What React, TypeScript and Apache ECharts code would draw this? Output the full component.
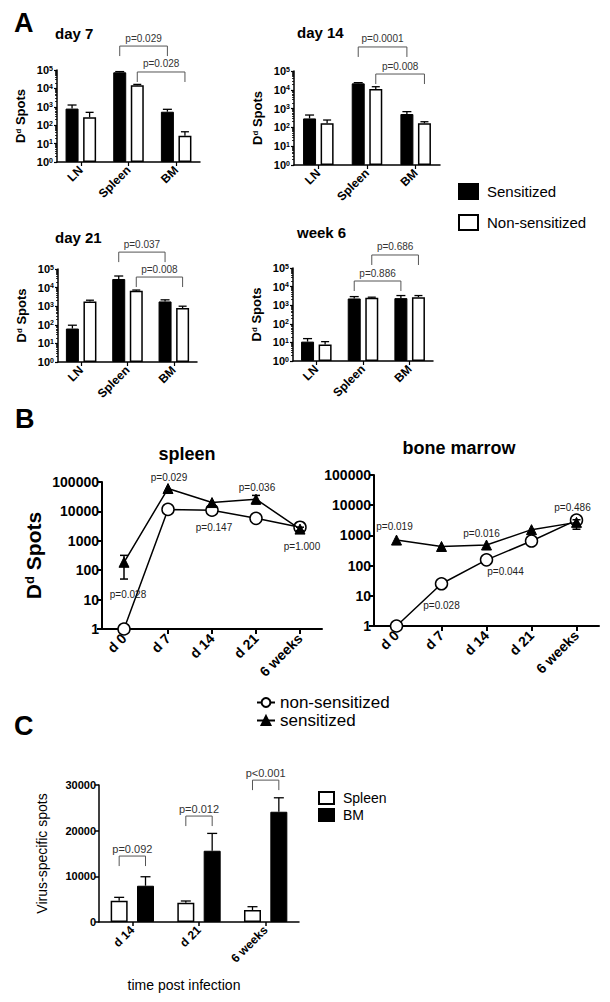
import React, { useEffect, useRef } from "react";
import * as echarts from "echarts";

const FONT = "'Liberation Sans', Arial, Helvetica, sans-serif";

// ---------------- Panel A data ----------------
const tissues = ["LN", "Spleen", "BM"];
const panelATitles = ["day 7", "day 14", "day 21", "week 6"];
const day7Sensitized = [800, 75000, 540];
const day7SensitizedErr = [1250, 82000, 730];
const day7NonSensitized = [270, 15000, 27];
const day7NonSensitizedErr = [500, 16500, 44];
const day14Sensitized = [300, 22000, 515];
const day14SensitizedErr = [455, 24000, 690];
const day14NonSensitized = [165, 11000, 165];
const day14NonSensitizedErr = [247, 14600, 200];
const day21Sensitized = [63, 29000, 1800];
const day21SensitizedErr = [95, 42000, 2200];
const day21NonSensitized = [1800, 6800, 790];
const day21NonSensitizedErr = [2100, 7400, 1000];
const week6Sensitized = [11, 2300, 2400];
const week6SensitizedErr = [16, 2900, 3300];
const week6NonSensitized = [7.6, 2500, 2700];
const week6NonSensitizedErr = [11, 2700, 3300];

// brackets: from [category, side], to [category, side], height on the log axis
const day7Brackets = [
  { from: [1, -1], to: [2, -1], at: 2.0e6, text: "p=0.029" },
  { from: [1, 1], to: [2, 1], at: 7.8e4, text: "p=0.028" },
];
const day14Brackets = [
  { from: [1, -1], to: [2, -1], at: 1.9e6, text: "p=0.0001" },
  { from: [1, 1], to: [2, 1], at: 6.9e4, text: "p=0.008" },
];
const day21Brackets = [
  { from: [1, -1], to: [2, -1], at: 8.1e5, text: "p=0.037" },
  { from: [1, 1], to: [2, 1], at: 3.7e4, text: "p=0.008" },
];
const week6Brackets = [
  { from: [1, 1], to: [2, 1], at: 5.0e5, text: "p=0.686" },
  { from: [1, -1], to: [2, -1], at: 2.0e4, text: "p=0.886" },
];

// ---------------- Panel B data ----------------
const timepoints = ["d 0", "d 7", "d 14", "d 21", "6 weeks"];
const spleenNonSensitized = [1, 11700, 11000, 5800, 2900];
const spleenSensitized = [186, 60000, 20000, 26000, 2500];
const spleenSensitizedLow = [50, null, null, 18000, 2200];
const spleenSensitizedHigh = [320, null, null, 35000, 2900];
const bmNonSensitized = [1, 25, 155, 650, 3200];
const bmSensitized = [700, 430, 480, 1550, 2700];
const bmSensitizedLow = [null, null, null, null, 1600];
const bmSensitizedHigh = [null, null, null, null, 3300];

const spleenPLabels = [
  { cat: 1, at: 1.4e5, dx: 1, text: "p=0.029" },
  { cat: 3, at: 6.5e4, dx: 1, text: "p=0.036" },
  { cat: 2, at: 2900, dx: 2, text: "p=0.147" },
  { cat: 0, at: 15.5, dx: 4, text: "p=0.028" },
  { cat: 4, at: 650, dx: 2, text: "p=1.000" },
];
const bmPLabels = [
  { cat: 0, at: 1900, dx: -2, text: "p=0.019" },
  { cat: 2, at: 1120, dx: -5, text: "p=0.016" },
  { cat: 4, at: 8100, dx: -4, text: "p=0.486" },
  { cat: 2, at: 62, dx: 19, text: "p=0.044" },
  { cat: 1, at: 4.6, dx: 0, text: "p=0.028" },
];

// ---------------- Panel C data ----------------
const timepointsC = ["d 14", "d 21", "6 weeks"];
const spleenC = [4660, 4230, 2630];
const spleenCErr = [5400, 4600, 3350];
const bmC = [7940, 15600, 24140];
const bmCErr = [9910, 19400, 27200];
const cBrackets = [
  { from: [0, -1], to: [0, 1], at: 14440, text: "p=0.092" },
  { from: [1, -1], to: [1, 1], at: 23200, text: "p=0.012" },
  { from: [2, -1], to: [2, 1], at: 31070, text: "p<0.001" },
];

// ---------------- helpers ----------------
function errorUp(gi: number, values: number[], highs: number[], side: number, offset: number, cap: number) {
  return {
    type: "custom",
    xAxisIndex: gi,
    yAxisIndex: gi,
    clip: false,
    silent: true,
    z: 4,
    encode: { x: 0, y: 1 },
    data: values.map((v, i) => [i, v, highs[i]]),
    renderItem: (params: any, api: any) => {
      const i = api.value(0);
      const a = api.coord([i, api.value(1)]);
      const b = api.coord([i, api.value(2)]);
      const x = a[0] + side * offset;
      return {
        type: "group",
        children: [
          { type: "line", shape: { x1: x, y1: a[1], x2: x, y2: b[1] }, style: { stroke: "#000", lineWidth: 1.3 } },
          { type: "line", shape: { x1: x - cap / 2, y1: b[1], x2: x + cap / 2, y2: b[1] }, style: { stroke: "#000", lineWidth: 1.3 } },
        ],
      };
    },
  };
}

function errorBoth(gi: number, lows: (number | null)[], highs: (number | null)[], cap: number) {
  const data: number[][] = [];
  lows.forEach((l, i) => {
    if (l != null && highs[i] != null) data.push([i, l as number, highs[i] as number]);
  });
  return {
    type: "custom",
    xAxisIndex: gi,
    yAxisIndex: gi,
    clip: false,
    silent: true,
    z: 4,
    encode: { x: 0, y: 1 },
    data,
    renderItem: (params: any, api: any) => {
      const i = api.value(0);
      const a = api.coord([i, api.value(1)]);
      const b = api.coord([i, api.value(2)]);
      const x = a[0];
      const st = { stroke: "#000", lineWidth: 1.5 };
      return {
        type: "group",
        children: [
          { type: "line", shape: { x1: x, y1: a[1], x2: x, y2: b[1] }, style: st },
          { type: "line", shape: { x1: x - cap / 2, y1: b[1], x2: x + cap / 2, y2: b[1] }, style: st },
          { type: "line", shape: { x1: x - cap / 2, y1: a[1], x2: x + cap / 2, y2: a[1] }, style: st },
        ],
      };
    },
  };
}

function brackets(gi: number, defs: any[], offset: number, drop: number, fontSize: number, textGap: number) {
  return {
    type: "custom",
    xAxisIndex: gi,
    yAxisIndex: gi,
    clip: false,
    silent: true,
    z: 6,
    encode: { x: 0, y: 1 },
    data: defs.map((d) => [d.from[0], d.at, d.to[0]]),
    renderItem: (params: any, api: any) => {
      const d = defs[params.dataIndex];
      const y = api.value(1);
      const p1 = api.coord([d.from[0], y]);
      const p2 = api.coord([d.to[0], y]);
      const x1 = p1[0] + d.from[1] * offset;
      const x2 = p2[0] + d.to[1] * offset;
      const yy = p1[1];
      return {
        type: "group",
        children: [
          {
            type: "polyline",
            shape: { points: [[x1, yy + drop], [x1, yy], [x2, yy], [x2, yy + drop]] },
            style: { stroke: "#555", fill: null, lineWidth: 1 },
          },
          {
            type: "text",
            x: (x1 + x2) / 2,
            y: yy - textGap,
            style: {
              text: d.text,
              fontSize,
              fontFamily: FONT,
              fill: "#333",
              align: "center",
              verticalAlign: "bottom",
              textAlign: "center",
              textVerticalAlign: "bottom",
            },
          },
        ],
      };
    },
  };
}

function pLabels(gi: number, defs: any[]) {
  return {
    type: "custom",
    xAxisIndex: gi,
    yAxisIndex: gi,
    clip: false,
    silent: true,
    z: 6,
    encode: { x: 0, y: 1 },
    data: defs.map((d) => [d.cat, d.at]),
    renderItem: (params: any, api: any) => {
      const d = defs[params.dataIndex];
      const p = api.coord([api.value(0), api.value(1)]);
      return {
        type: "text",
        x: p[0] + d.dx,
        y: p[1],
        style: {
          text: d.text,
          fontSize: 10,
          fontFamily: FONT,
          fill: "#222",
          align: "center",
          verticalAlign: "middle",
          textAlign: "center",
          textVerticalAlign: "middle",
        },
      };
    },
  };
}

function txt(text: string, x: number, y: number, size: number, bold: boolean, align = "left") {
  return {
    type: "text",
    x,
    y,
    silent: true,
    style: {
      text,
      fontSize: size,
      fontWeight: bold ? "bold" : "normal",
      fontFamily: FONT,
      fill: "#000",
      align,
      verticalAlign: "middle",
      textAlign: align,
      textVerticalAlign: "middle",
    },
  };
}

const BAR_A = 13;
const GAP_A = 0.35;
const OFF_A = (BAR_A + BAR_A * GAP_A) / 2;
const BAR_C = 17;
const GAP_C = 0.55;
const OFF_C = (BAR_C + BAR_C * GAP_C) / 2;

function buildOption() {
  const gridsA = [
    { left: 57, top: 70, width: 143, height: 92 },
    { left: 294, top: 71, width: 146, height: 94 },
    { left: 58, top: 269, width: 139, height: 93 },
    { left: 293, top: 268, width: 140, height: 93 },
  ];
  const gridB = [
    { left: 102, top: 482, width: 220, height: 147 },
    { left: 374, top: 475, width: 225, height: 151 },
  ];
  const gridC = { left: 99, top: 785, width: 200, height: 137 };
  const grids = [...gridsA, ...gridB, gridC].map((g) => ({ ...g, outerBoundsMode: "none", containLabel: false }));

  const axisLineA = { show: true, lineStyle: { color: "#000", width: 1.5 } };
  const xAxes: any[] = [];
  const yAxes: any[] = [];

  for (let i = 0; i < 4; i++) {
    xAxes.push({
      type: "category",
      gridIndex: i,
      data: tissues,
      axisLine: axisLineA,
      axisTick: { show: true, alignWithLabel: true, length: 4, lineStyle: { color: "#000", width: 1.2 } },
      axisLabel: { rotate: 45, interval: 0, fontSize: 12, fontWeight: "bold", color: "#000", margin: 6, fontFamily: FONT },
      splitLine: { show: false },
    });
    yAxes.push({
      type: "log",
      logBase: 10,
      gridIndex: i,
      min: 1,
      max: 100000,
      axisLine: axisLineA,
      axisTick: { show: true, length: 3, lineStyle: { color: "#000", width: 1.2 } },
      minorTick: { show: true, splitNumber: 9, length: 2, lineStyle: { color: "#000", width: 0.8 } },
      splitLine: { show: false },
      axisLabel: {
        margin: 4,
        formatter: (v: number) => `{b|10}{s|${Math.round(Math.log10(v))}}`,
        rich: {
          b: { fontSize: 11, fontWeight: "bold", color: "#000", fontFamily: FONT },
          s: { fontSize: 7, fontWeight: "bold", color: "#000", fontFamily: FONT, verticalAlign: "top" },
        },
      },
      name: "{a|D}{b|d}{a| Spots}",
      nameLocation: "middle",
      nameRotate: 90,
      nameGap: 30,
      nameTextStyle: {
        rich: {
          a: { fontSize: 13, fontWeight: "bold", color: "#000", fontFamily: FONT },
          b: { fontSize: 8, fontWeight: "bold", color: "#000", fontFamily: FONT, verticalAlign: "top" },
        },
      },
    });
  }

  for (let j = 0; j < 2; j++) {
    const gi = 4 + j;
    xAxes.push({
      type: "category",
      gridIndex: gi,
      data: timepoints,
      axisLine: { show: true, lineStyle: { color: "#000", width: 2 } },
      axisTick: { show: true, alignWithLabel: true, length: 5, lineStyle: { color: "#000", width: 2 } },
      axisLabel: { rotate: 45, interval: 0, fontSize: 14, fontWeight: "bold", color: "#000", margin: 7, fontFamily: FONT },
      splitLine: { show: false },
    });
    yAxes.push({
      type: "log",
      logBase: 10,
      gridIndex: gi,
      min: 1,
      max: 100000,
      axisLine: { show: true, lineStyle: { color: "#000", width: 2 } },
      axisTick: { show: true, length: 5, lineStyle: { color: "#000", width: 2 } },
      splitLine: { show: false },
      axisLabel: {
        margin: 3,
        fontSize: 14,
        fontWeight: "bold",
        color: "#000",
        fontFamily: FONT,
        formatter: (v: number) => String(Math.round(v)),
      },
      name: j === 0 ? "{a|D}{b|d}{a| Spots}" : "",
      nameLocation: "middle",
      nameRotate: 90,
      nameGap: 58,
      nameTextStyle: {
        rich: {
          a: { fontSize: 21, fontWeight: "bold", color: "#000", fontFamily: FONT },
          b: { fontSize: 13, fontWeight: "bold", color: "#000", fontFamily: FONT, verticalAlign: "top" },
        },
      },
    });
  }

  xAxes.push({
    type: "category",
    gridIndex: 6,
    data: timepointsC,
    axisLine: { show: true, lineStyle: { color: "#000", width: 1.5 } },
    axisTick: { show: true, alignWithLabel: true, length: 4, lineStyle: { color: "#000", width: 1.5 } },
    axisLabel: { rotate: 45, interval: 0, fontSize: 12, fontWeight: "bold", color: "#000", margin: 6, fontFamily: FONT },
    splitLine: { show: false },
  });
  yAxes.push({
    type: "value",
    gridIndex: 6,
    min: 0,
    max: 30000,
    interval: 10000,
    axisLine: { show: true, lineStyle: { color: "#000", width: 1.5 } },
    axisTick: { show: true, length: 4, lineStyle: { color: "#000", width: 1.5 } },
    splitLine: { show: false },
    axisLabel: {
      margin: 3,
      fontSize: 11,
      fontWeight: "bold",
      color: "#000",
      fontFamily: FONT,
      formatter: (v: number) => String(Math.round(v)),
    },
    name: "Virus-specific spots",
    nameLocation: "middle",
    nameRotate: 90,
    nameGap: 50,
    nameTextStyle: { fontSize: 14, color: "#000", fontFamily: FONT },
  });

  const series: any[] = [];
  const aSets = [
    [day7Sensitized, day7SensitizedErr, day7NonSensitized, day7NonSensitizedErr, day7Brackets],
    [day14Sensitized, day14SensitizedErr, day14NonSensitized, day14NonSensitizedErr, day14Brackets],
    [day21Sensitized, day21SensitizedErr, day21NonSensitized, day21NonSensitizedErr, day21Brackets],
    [week6Sensitized, week6SensitizedErr, week6NonSensitized, week6NonSensitizedErr, week6Brackets],
  ];
  aSets.forEach((s: any, i) => {
    series.push({
      type: "bar",
      name: "Sensitized",
      xAxisIndex: i,
      yAxisIndex: i,
      data: s[0],
      barWidth: BAR_A,
      barGap: `${GAP_A * 100}%`,
      itemStyle: { color: "#000", borderColor: "#000", borderWidth: 1 },
    });
    series.push({
      type: "bar",
      name: "Non-sensitized",
      xAxisIndex: i,
      yAxisIndex: i,
      data: s[2],
      barWidth: BAR_A,
      barGap: `${GAP_A * 100}%`,
      itemStyle: { color: "#fff", borderColor: "#000", borderWidth: 1.5 },
    });
    series.push(errorUp(i, s[0], s[1], -1, OFF_A, 9));
    series.push(errorUp(i, s[2], s[3], 1, OFF_A, 8));
    series.push(brackets(i, s[4], OFF_A, 10, 10, 3));
  });

  const bSets = [
    [spleenNonSensitized, spleenSensitized, spleenSensitizedLow, spleenSensitizedHigh, spleenPLabels],
    [bmNonSensitized, bmSensitized, bmSensitizedLow, bmSensitizedHigh, bmPLabels],
  ];
  bSets.forEach((s: any, j) => {
    const gi = 4 + j;
    series.push({
      type: "line",
      name: "non-sensitized",
      xAxisIndex: gi,
      yAxisIndex: gi,
      data: s[0],
      symbol: "circle",
      symbolSize: 12,
      showAllSymbol: true,
      lineStyle: { color: "#000", width: 1.5 },
      itemStyle: { color: "#fff", borderColor: "#000", borderWidth: 1.5 },
      z: 3,
    });
    series.push({
      type: "line",
      name: "sensitized",
      xAxisIndex: gi,
      yAxisIndex: gi,
      data: s[1],
      symbol: "triangle",
      symbolSize: 10,
      showAllSymbol: true,
      lineStyle: { color: "#000", width: 1.5 },
      itemStyle: { color: "#000", borderColor: "#000", borderWidth: 1 },
      z: 4,
    });
    series.push(errorBoth(gi, s[2], s[3], 8));
    series.push(pLabels(gi, s[4]));
  });

  series.push({
    type: "bar",
    name: "Spleen",
    xAxisIndex: 6,
    yAxisIndex: 6,
    data: spleenC,
    barWidth: BAR_C,
    barGap: `${GAP_C * 100}%`,
    itemStyle: { color: "#fff", borderColor: "#000", borderWidth: 1.5 },
  });
  series.push({
    type: "bar",
    name: "BM",
    xAxisIndex: 6,
    yAxisIndex: 6,
    data: bmC,
    barWidth: BAR_C,
    barGap: `${GAP_C * 100}%`,
    itemStyle: { color: "#000", borderColor: "#000", borderWidth: 1 },
  });
  series.push(errorUp(6, spleenC, spleenCErr, -1, OFF_C, 10));
  series.push(errorUp(6, bmC, bmCErr, 1, OFF_C, 10));
  series.push(brackets(6, cBrackets, OFF_C, 10, 11, 2));

  const graphic = [
    txt("A", 14, 23, 27, true),
    txt(panelATitles[0], 55, 33, 15, true),
    txt(panelATitles[1], 297, 32, 15, true),
    txt(panelATitles[2], 55, 237, 15, true),
    txt(panelATitles[3], 297, 232, 15, true),
    txt("B", 15, 419, 27, true),
    txt("spleen", 187, 454, 18, true, "center"),
    txt("bone marrow", 459, 448, 18, true, "center"),
    txt("C", 14, 726, 27, true),
    txt("time post infection", 184, 985, 14, false, "center"),
  ];

  return {
    animation: false,
    backgroundColor: "#fff",
    textStyle: { fontFamily: FONT },
    grid: grids,
    xAxis: xAxes,
    yAxis: yAxes,
    legend: [
      {
        left: 458,
        top: 183,
        orient: "vertical",
        itemWidth: 19,
        itemHeight: 15,
        itemGap: 14,
        padding: 0,
        selectedMode: false,
        data: [
          { name: "Sensitized", icon: "rect" },
          { name: "Non-sensitized", icon: "rect" },
        ],
        textStyle: { fontSize: 15, color: "#000", fontFamily: FONT, padding: [0, 0, 0, 4] },
      },
      {
        left: 256,
        top: 694,
        orient: "vertical",
        itemWidth: 18,
        itemHeight: 11,
        itemGap: 1,
        padding: 0,
        selectedMode: false,
        data: ["non-sensitized", "sensitized"],
        textStyle: { fontSize: 17, color: "#000", fontFamily: FONT },
      },
      {
        left: 318,
        top: 791,
        orient: "vertical",
        itemWidth: 15,
        itemHeight: 12,
        itemGap: 3,
        padding: 0,
        selectedMode: false,
        data: [
          { name: "Spleen", icon: "rect" },
          { name: "BM", icon: "rect" },
        ],
        textStyle: { fontSize: 14, color: "#000", fontFamily: FONT, padding: [0, 0, 0, 4] },
      },
    ],
    series,
    graphic,
  };
}

export default function App() {
  const ref = useRef<HTMLDivElement>(null);
  useEffect(() => {
    document.body.style.margin = "0";
    if (!ref.current) return;
    const chart = echarts.init(ref.current, null, { renderer: "svg" });
    chart.setOption(buildOption() as any);
    return () => chart.dispose();
  }, []);
  return <div ref={ref} style={{ width: 610, height: 1002, background: "#fff" }} />;
}
